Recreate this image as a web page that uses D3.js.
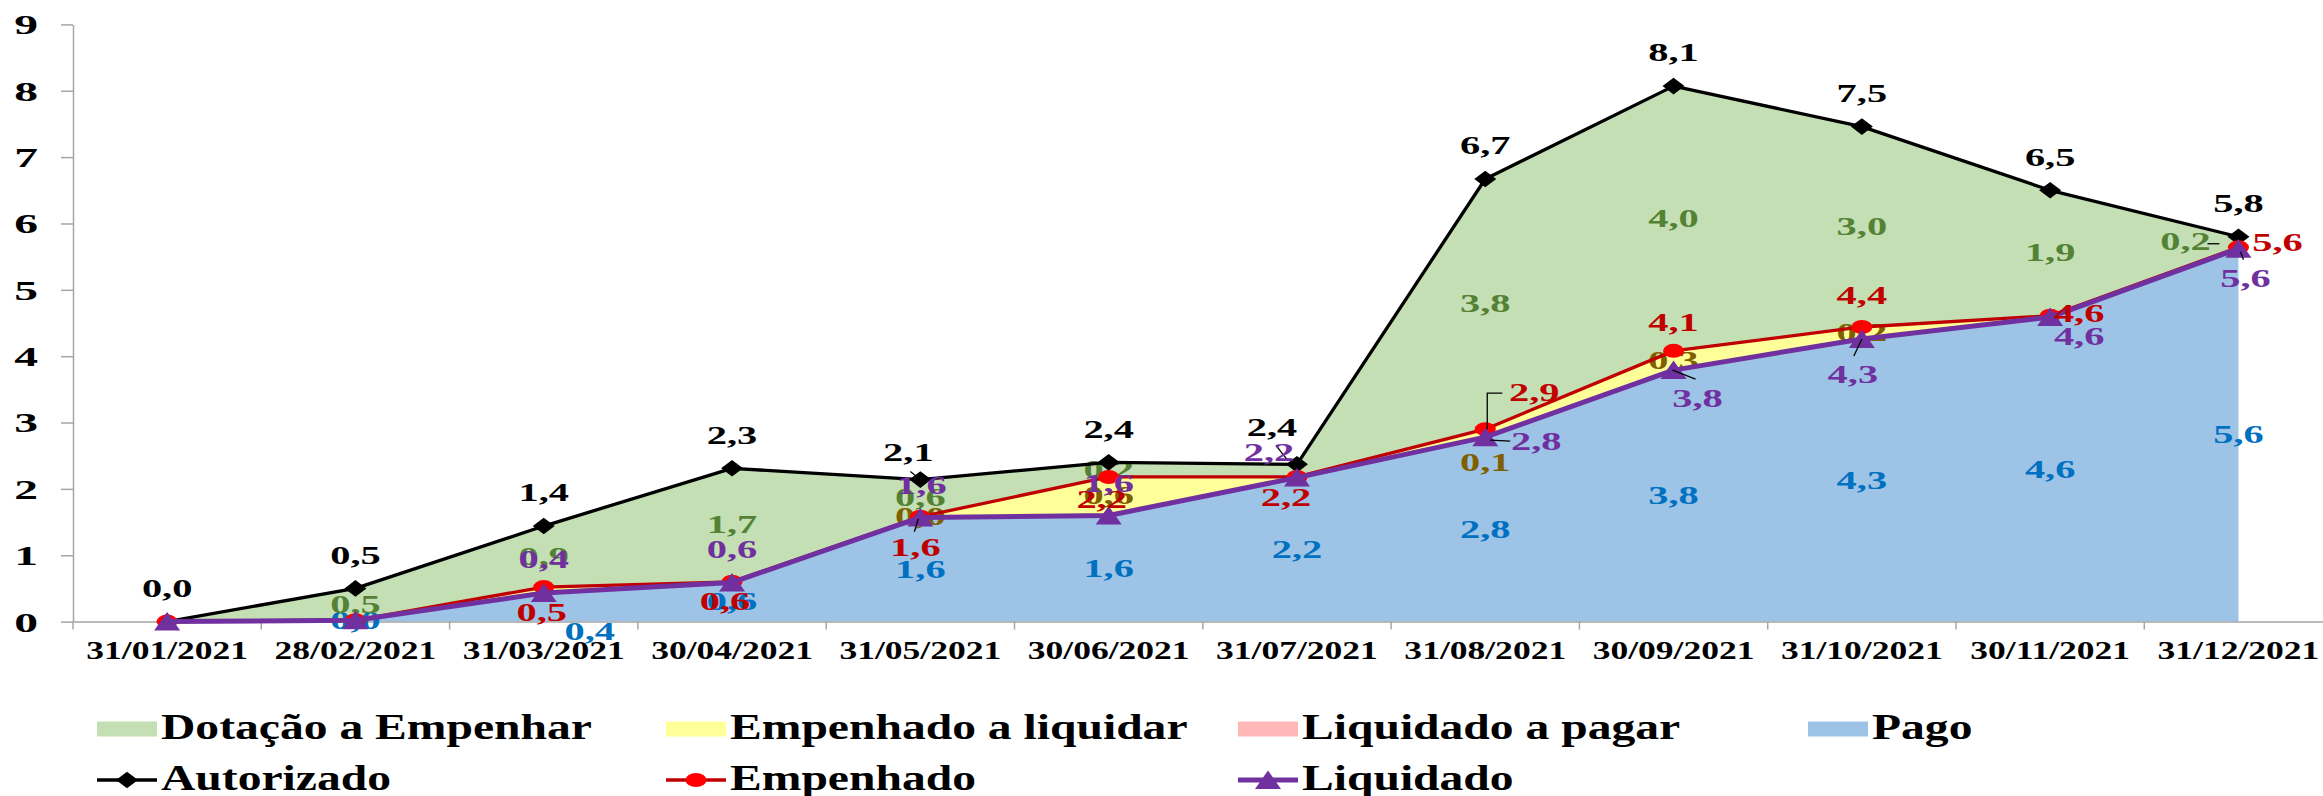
<!DOCTYPE html>
<html><head><meta charset="utf-8">
<script src="https://cdn.jsdelivr.net/npm/d3@7"></script>
<style>
html,body{margin:0;padding:0;background:#fff;}
svg{display:block;}
text{font-family:"Liberation Serif","Times New Roman",serif;font-weight:bold;}
</style>
</head><body>
<svg id="chart" width="2323" height="796"></svg>
<script>
// ---------- DATA ----------
const categories = ["31/01/2021","28/02/2021","31/03/2021","30/04/2021","31/05/2021","30/06/2021",
                    "31/07/2021","31/08/2021","30/09/2021","31/10/2021","30/11/2021","31/12/2021"];
const pago               = [0.00, 0.02, 0.43, 0.59, 1.57, 1.60, 2.17, 2.78, 3.79, 4.26, 4.59, 5.62];
const liquidadoAPagar    = [0.00, 0.00, 0.00, 0.00, 0.00, 0.00, 0.00, 0.00, 0.00, 0.00, 0.00, 0.00];
const empenhadoALiquidar = [0.00, 0.00, 0.09, 0.01, 0.01, 0.58, 0.01, 0.12, 0.29, 0.18, 0.02, 0.02];
const dotacaoAEmpenhar   = [0.00, 0.48, 0.92, 1.71, 0.56, 0.22, 0.19, 3.77, 3.99, 3.02, 1.89, 0.16];
const yTicks = [0,1,2,3,4,5,6,7,8,9];

// ---------- STYLE / LAYOUT ----------
const W = 2323, H = 796;
const colors = {
  dotacao: "#C4DFB4", empenhadoALiquidar: "#FFFF99", liquidadoAPagar: "#FFB7B7", pago: "#9DC3E6",
  autorizado: "#000000", empenhadoLine: "#C00000", empenhadoMarker: "#FF0000", liquidado: "#7030A0",
  lblDotacao: "#548235", lblEmpALiq: "#7F6000", lblPago: "#0070C0", lblEmp: "#C00000", lblLiq: "#7030A0",
  axis: "#A6A6A6"
};
const LBL = {fs: 24.5, s: 1.65};
const YT = {fs: 28, s: 1.7};
const XT = {fs: 24.5, s: 1.45};
const LG = {fs: 35, s: 1.36};

// label placement tweaks (pixels, relative to default position)
const lineLabelDefault = {autorizado: [0,-33], empenhado: [0,26], liquidado: [0,-33]};
const lineLabelNudge = {
  autorizado: {4:[-12,-27], 6:[-25,-37]},
  empenhado: {2:[-2,26], 3:[-7,20], 4:[-5,31], 5:[-7,23], 6:[-11,21], 7:[49,-36], 8:[0,-28], 9:[0,-31], 10:[29,-2], 11:[39,-5]},
  liquidado: {2:[0,-33], 3:[0,-33], 4:[1,-32], 5:[0,-32], 6:[-28,-25], 7:[51,5], 8:[24,29], 9:[-9,36], 10:[29,20], 11:[7,30]}
};
const bandLabelNudge = {pago: {2:[46,24]}, empenhadoALiquidar: {7:[0,30]}, dotacao: {11:[-53,0]}};
const hiddenLabels = {
  autorizado: [], empenhado: [0,1], liquidado: [0,1],
  pago: [0], liquidadoAPagar: d3.range(12), empenhadoALiquidar: [0,1,2,3,6,10,11], dotacao: [0,6]
};
const leaders = [
  {s:"autorizado", i:4, p:[[-10,-8],[-5,-4]]},
  {s:"empenhado", i:4, p:[[-6,15],[-2,2]]},
  {s:"autorizado", i:6, p:[[-21,-19],[-10,-5]]},
  {s:"empenhado", i:7, p:[[2,0],[2,-36],[17,-36]]},
  {s:"liquidado", i:7, p:[[5,3],[25,4]]},
  {s:"liquidado", i:8, p:[[-1,0],[22,9]]},
  {s:"liquidado", i:9, p:[[0,0],[-8,17]]},
  {s:"autorizado", i:11, p:[[-31,7],[-19,7]]},
  {s:"liquidado", i:11, p:[[2,3],[5,11]]}
];

// ---------- BUILD ----------
const svg = d3.select("#chart");
svg.append("rect").attr("width", W).attr("height", H).attr("fill", "#fff");

const x = d3.scaleBand().domain(categories).range([73, 73 + 12 * 188.3]).padding(0);
const y = d3.scaleLinear().domain([0, 9]).range([621.6, 24.4]);
const cx = i => x(categories[i]) + x.bandwidth() / 2;
const fmt = v => d3.format(".1f")(v).replace(".", ",");

const rows = categories.map((c, i) => ({
  cat: c, pago: pago[i], liquidadoAPagar: liquidadoAPagar[i],
  empenhadoALiquidar: empenhadoALiquidar[i], dotacao: dotacaoAEmpenhar[i]
}));
const keys = ["pago", "liquidadoAPagar", "empenhadoALiquidar", "dotacao"];
const stacked = d3.stack().keys(keys)(rows);
const liquidado = stacked[1].map(d => d[1]);
const empenhado = stacked[2].map(d => d[1]);
const autorizado = stacked[3].map(d => d[1]);
const lineVals = {autorizado, empenhado, liquidado};

// areas
const area = d3.area().x((d, i) => cx(i)).y0(d => y(d[0])).y1(d => y(d[1]));
svg.append("g").selectAll("path").data(stacked).join("path")
  .attr("d", area).attr("fill", d => colors[d.key]);

// axes
const gy = svg.append("g").attr("transform", "translate(73,0)")
  .call(d3.axisLeft(y).tickValues(yTicks).tickSize(12).tickSizeOuter(0).tickFormat(d3.format("d")));
gy.select(".domain").attr("stroke", colors.axis).attr("stroke-width", 1.5);
gy.selectAll(".tick line").attr("stroke", colors.axis).attr("stroke-width", 1.5);
gy.selectAll(".tick text")
  .attr("x", null).attr("dy", null).attr("fill", "#000")
  .attr("font-size", YT.fs).attr("text-anchor", "end")
  .attr("transform", `translate(-35,${0.338 * YT.fs}) scale(${YT.s},1)`);

const gx = svg.append("g").attr("transform", `translate(0,${y(0)})`)
  .call(d3.axisBottom(x).tickSize(0).tickSizeOuter(0).tickPadding(0));
gx.select(".domain").attr("stroke", colors.axis).attr("stroke-width", 1.5);
gx.selectAll(".bt").data(d3.range(categories.length + 1)).join("line").attr("class", "bt")
  .attr("x1", k => x.range()[0] + k * x.step()).attr("x2", k => x.range()[0] + k * x.step())
  .attr("y1", 0).attr("y2", 8).attr("stroke", colors.axis).attr("stroke-width", 1.5);
gx.selectAll(".tick text")
  .attr("y", null).attr("dy", null).attr("fill", "#000")
  .attr("font-size", XT.fs).attr("text-anchor", "middle")
  .attr("transform", `translate(0,${29.4 + 0.338 * XT.fs}) scale(${XT.s},1)`);

// helper for stretched centered text
function label(g, txt, px, py, color, st, anchor) {
  g.append("text").text(txt)
    .attr("font-size", st.fs).attr("fill", color).attr("text-anchor", anchor || "middle")
    .attr("transform", `translate(${px},${py + 0.338 * st.fs}) scale(${st.s},1)`);
}

// area labels
const gAreaLbl = svg.append("g");
const bandLblColor = {pago: colors.lblPago, liquidadoAPagar: "#C00000", empenhadoALiquidar: colors.lblEmpALiq, dotacao: colors.lblDotacao};
stacked.forEach(layer => {
  layer.forEach((d, i) => {
    if (hiddenLabels[layer.key].includes(i)) return;
    const v = d[1] - d[0];
    const n = (bandLabelNudge[layer.key] || {})[i] || [0, 0];
    label(gAreaLbl, fmt(v), cx(i) + n[0], y((d[0] + d[1]) / 2) + n[1], bandLblColor[layer.key], LBL);
  });
});

// lines + markers
const line = d3.line().x((d, i) => cx(i)).y(d => y(d));
const markerPath = {
  diamond: "M0,-8.3L11,0L0,8.3L-11,0Z",
  triangle: "M0,-9.5L13,9L-13,9Z"
};
function drawSeries(vals, stroke, sw, marker, mfill) {
  const g = svg.append("g");
  g.append("path").attr("d", line(vals)).attr("fill", "none").attr("stroke", stroke)
    .attr("stroke-width", sw).attr("stroke-linejoin", "round");
  vals.forEach((v, i) => {
    if (marker === "circle") {
      g.append("ellipse").attr("cx", cx(i)).attr("cy", y(v)).attr("rx", 10.5).attr("ry", 7).attr("fill", mfill);
    } else {
      g.append("path").attr("d", markerPath[marker]).attr("fill", mfill)
        .attr("transform", `translate(${cx(i)},${y(v)})`);
    }
  });
}
drawSeries(autorizado, colors.autorizado, 3.3, "diamond", "#000");
drawSeries(empenhado, colors.empenhadoLine, 3.3, "circle", colors.empenhadoMarker);
drawSeries(liquidado, colors.liquidado, 5, "triangle", colors.liquidado);

// leader lines
const gLead = svg.append("g");
leaders.forEach(l => {
  const px = cx(l.i), py = y(lineVals[l.s][l.i]);
  gLead.append("path").attr("d", d3.line()(l.p.map(p => [px + p[0], py + p[1]])))
    .attr("fill", "none").attr("stroke", "#000").attr("stroke-width", 1.3);
});

// line labels
const gLineLbl = svg.append("g");
const lineLblColor = {autorizado: "#000", empenhado: colors.lblEmp, liquidado: colors.lblLiq};
["autorizado", "empenhado", "liquidado"].forEach(key => {
  lineVals[key].forEach((v, i) => {
    if (hiddenLabels[key].includes(i)) return;
    const n = lineLabelNudge[key][i] || lineLabelDefault[key];
    label(gLineLbl, fmt(v), cx(i) + n[0], y(v) + n[1], lineLblColor[key], LBL);
  });
});

// legend
const legendItems = [
  {name: "Dotação a Empenhar", type: "rect", color: colors.dotacao, col: 0, row: 0},
  {name: "Empenhado a liquidar", type: "rect", color: colors.empenhadoALiquidar, col: 1, row: 0},
  {name: "Liquidado a pagar", type: "rect", color: colors.liquidadoAPagar, col: 2, row: 0},
  {name: "Pago", type: "rect", color: colors.pago, col: 3, row: 0},
  {name: "Autorizado", type: "line", color: "#000", marker: "diamond", mfill: "#000", col: 0, row: 1},
  {name: "Empenhado", type: "line", color: colors.empenhadoLine, marker: "circle", mfill: colors.empenhadoMarker, col: 1, row: 1},
  {name: "Liquidado", type: "line", color: colors.liquidado, marker: "triangle", mfill: colors.liquidado, col: 2, row: 1}
];
const colX = [97, 666, 1238, 1808];
const rowY = [729, 780];
const gLeg = svg.append("g");
legendItems.forEach(it => {
  const lx = colX[it.col], ly = rowY[it.row];
  if (it.type === "rect") {
    gLeg.append("rect").attr("x", lx).attr("y", ly - 7.5).attr("width", 60).attr("height", 15).attr("fill", it.color);
  } else {
    gLeg.append("line").attr("x1", lx).attr("x2", lx + 60).attr("y1", ly).attr("y2", ly)
      .attr("stroke", it.color).attr("stroke-width", it.marker === "triangle" ? 5 : 3.3);
    if (it.marker === "circle") {
      gLeg.append("ellipse").attr("cx", lx + 30).attr("cy", ly).attr("rx", 10.5).attr("ry", 7).attr("fill", it.mfill);
    } else {
      gLeg.append("path").attr("d", markerPath[it.marker]).attr("fill", it.mfill)
        .attr("transform", `translate(${lx + 30},${ly})`);
    }
  }
  gLeg.append("text").text(it.name).attr("font-size", LG.fs).attr("fill", "#000")
    .attr("transform", `translate(${lx + 64},${ly + 9.5}) scale(${LG.s},1)`);
});
</script>
</body></html>
